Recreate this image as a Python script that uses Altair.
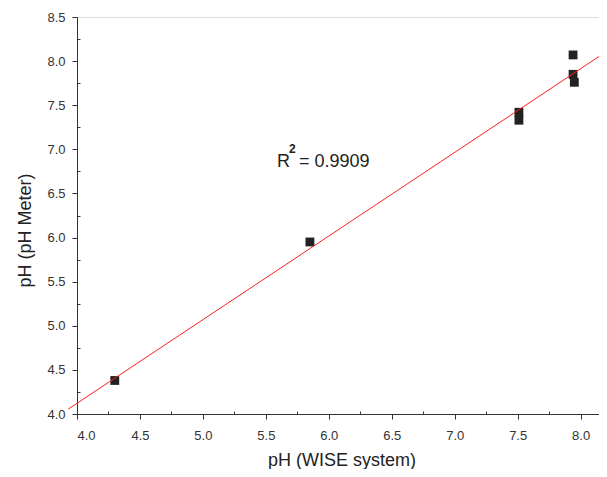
import altair as alt
import pandas as pd

# Data
ph_wise = [4.30, 5.85, 7.51, 7.51, 7.94, 7.94, 7.95]
ph_meter = [4.38, 5.95, 7.42, 7.33, 8.07, 7.85, 7.76]

major_x = [4.0, 4.5, 5.0, 5.5, 6.0, 6.5, 7.0, 7.5, 8.0]
minor_x = [4.25, 4.75, 5.25, 5.75, 6.25, 6.75, 7.25, 7.75]
major_y = [4.0, 4.5, 5.0, 5.5, 6.0, 6.5, 7.0, 7.5, 8.0, 8.5]
minor_y = [4.25, 4.75, 5.25, 5.75, 6.25, 6.75, 7.25, 7.75, 8.25]

r2_x = [5.589]
r2_y = [6.80]

df = pd.DataFrame({"x": ph_wise, "y": ph_meter})
lab = pd.DataFrame({"x": r2_x, "y": r2_y})

FONT = "Liberation Sans"
XMAX = 8.146
xscale = alt.Scale(domain=[4.0, XMAX], nice=False, zero=False)
yscale = alt.Scale(domain=[4.0, 8.5], nice=False, zero=False)

major_common = dict(
    grid=False, domainColor="#333333", tickColor="#333333", tickSize=5,
    labelFont=FONT, labelFontSize=13, labelColor="#333333",
    titleFont=FONT, titleFontSize=18, titleFontWeight="normal", titleColor="#222222",
    titleBaseline="alphabetic",
)

points = alt.Chart(df).mark_square(size=78, color="#222222", opacity=1).encode(
    x=alt.X("x:Q", scale=xscale,
            axis=alt.Axis(title="pH (WISE system)", values=major_x, format=".1f",
                          labelPadding=10, titleY=51, titleX=264.5, orient="bottom",
                          **major_common)),
    y=alt.Y("y:Q", scale=yscale,
            axis=alt.Axis(title="pH (pH Meter)", values=major_y, format=".1f",
                          labelPadding=7, titleX=-47, titleY=213, orient="left",
                          **major_common)),
)

line = alt.Chart(df).transform_regression(
    "x", "y", extent=[3.93, XMAX]
).mark_line(color="#ff2020", strokeWidth=1).encode(
    x=alt.X("x:Q", scale=xscale,
            axis=alt.Axis(orient="bottom", values=minor_x, labels=False, domain=False,
                          grid=False, tickSize=3, offset=-3, tickColor="#333333", title=None)),
    y=alt.Y("y:Q", scale=yscale,
            axis=alt.Axis(orient="left", values=minor_y, labels=False, domain=False,
                          grid=False, tickSize=3, offset=-3, tickColor="#333333", title=None)),
)

base_text = alt.Chart(lab).encode(
    x=alt.X("x:Q", scale=xscale, axis=None),
    y=alt.Y("y:Q", scale=yscale, axis=None),
)
t_r = base_text.mark_text(font=FONT, fontSize=18, color="#222222", align="left",
                          baseline="alphabetic", text="R")
t_2 = base_text.mark_text(font=FONT, fontSize=12, fontWeight="bold", color="#222222",
                          align="left", baseline="alphabetic", dx=12, dy=-14, text="2")
t_v = base_text.mark_text(font=FONT, fontSize=18, color="#222222", align="left",
                          baseline="alphabetic", dx=22, text="= 0.9909")

chart = alt.layer(points, line, t_r, t_2, t_v).resolve_axis(
    x="independent", y="independent"
).properties(
    width=522, height=397,
    autosize=alt.AutoSizeParams(type="none"),
    padding={"left": 69, "top": 9, "right": 0, "bottom": 55},
).configure_view(stroke=None).configure(background="white")

chart.save("out.html", embed_options={"renderer": "svg", "actions": False})
